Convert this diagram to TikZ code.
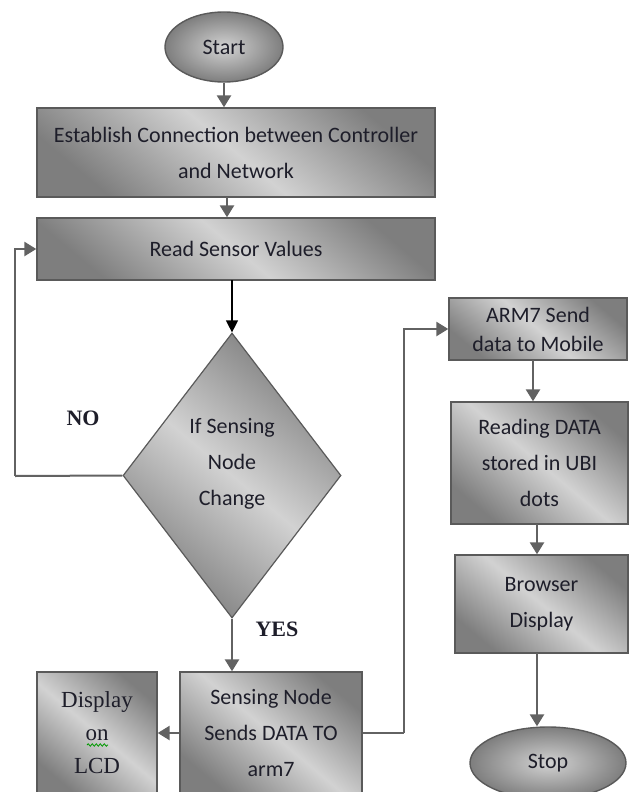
\documentclass[tikz,border=0pt]{standalone}
\usepackage{fontspec}
\setmainfont{Carlito}
\newfontfamily\serifface{Liberation Serif}
\usetikzlibrary{shapes.geometric,arrows.meta,decorations.pathmorphing}
\definecolor{edge}{HTML}{5A5A5A}
\definecolor{flow}{HTML}{626262}
\definecolor{ink}{HTML}{1E1E2A}
\definecolor{lite}{HTML}{D2D2D2}
\definecolor{dark}{HTML}{7E7E7E}
\tikzset{
  boxtext/.style={text=ink, font=\fontsize{22}{36}\selectfont},
  procbox/.style={draw=edge, line width=1.4pt, rectangle, align=center,
    top color=dark, bottom color=dark, middle color=lite, shading angle=-40,
    boxtext, inner sep=0pt},
  termbox/.style={draw=edge, line width=1.4pt, ellipse, align=center,
    inner color=lite, outer color=dark, boxtext, inner sep=0pt},
  decbox/.style={draw=edge, line width=1.2pt, diamond,
    top color=dark, bottom color=dark, middle color=lite, shading angle=-40,
    inner sep=0pt},
  flowline/.style={draw=flow, line width=2.6pt,
    -{Triangle[width=14pt,length=12pt]}},
  plainline/.style={draw=flow, line width=2pt},
  decision/.style={font=\serifface\bfseries\fontsize{22}{24}\selectfont, text=ink}
}
\begin{document}
\begin{tikzpicture}[x=1pt,y=-1pt]
\useasboundingbox (0,0) rectangle (630,792);

% terminals
\node[termbox, minimum width=118pt, minimum height=70pt] (start) at (224,47) {Start};
\node[termbox, minimum width=156pt, minimum height=72pt] (stop) at (548,763) {Stop};

% left column
\node[procbox, minimum width=398pt, minimum height=89pt] (conn) at (236,152.5)
  {Establish Connection between Controller\\and Network};
\node[procbox, minimum width=398pt, minimum height=62pt] (read) at (236,249)
  {Read Sensor Values};
\node[decbox, minimum width=218pt, minimum height=285pt] (check) at (232,475.5) {};
\node[boxtext, align=center] (checktext) at ([yshift=12pt]check.center)
  {If Sensing\\Node\\Change};
\node[procbox, minimum width=182pt, minimum height=122pt] (send) at (271,733)
  {Sensing Node\\Sends DATA TO\\arm7};
\node[procbox, minimum width=120pt, minimum height=122pt,
      font=\serifface\fontsize{23}{33}\selectfont] (lcd) at (97,733)
  {Display\\on\\LCD};

% right column
\node[procbox, minimum width=178pt, minimum height=62pt,
      font=\fontsize{22}{29}\selectfont] (arm) at (538,329)
  {ARM7 Send\\data to Mobile};
\node[procbox, minimum width=177pt, minimum height=122pt] (ubi) at (539.5,463)
  {Reading DATA\\stored in UBI\\dots};
\node[procbox, minimum width=173pt, minimum height=98pt] (browser) at (541.5,604)
  {Browser\\Display};

% spell-check mark under "on"
\draw[green!60!black, line width=0.8pt,
      decorate, decoration={snake, amplitude=1.2pt, segment length=4pt}]
  (87,745) -- (108,745);

% branch labels
\node[decision] (nolabel) at (83,418) {NO};
\node[decision] (yeslabel) at (277,629) {YES};

% connectors
\draw[flowline] (start.south) -- (start.south |- conn.north);
\draw[flowline] (227,197) coordinate (c1) -- (c1 |- read.north);
\draw[black, line width=1.2pt, -{Triangle[width=12pt,length=12pt]}]
  (232,280) coordinate (r1) -- (check.north);
\draw[plainline] (check.west) -- (15,476) coordinate (nobend);
\draw[flowline] (nobend) |- (read.west);
\draw[flowline] (check.south) -- (check.south |- send.north);
\draw[flowline] (send.west) -- (lcd.east);
\draw[plainline] (send.east) -- (404,733) coordinate (yesbend);
\draw[flowline] (yesbend) |- (arm.west);
\draw[flowline] (533,360) coordinate (a1) -- (a1 |- ubi.north);
\draw[flowline] (537,524) coordinate (u1) -- (u1 |- browser.north);
\draw[flowline] (537,653) coordinate (b1) -- (b1 |- stop.north);
\end{tikzpicture}
\end{document}
